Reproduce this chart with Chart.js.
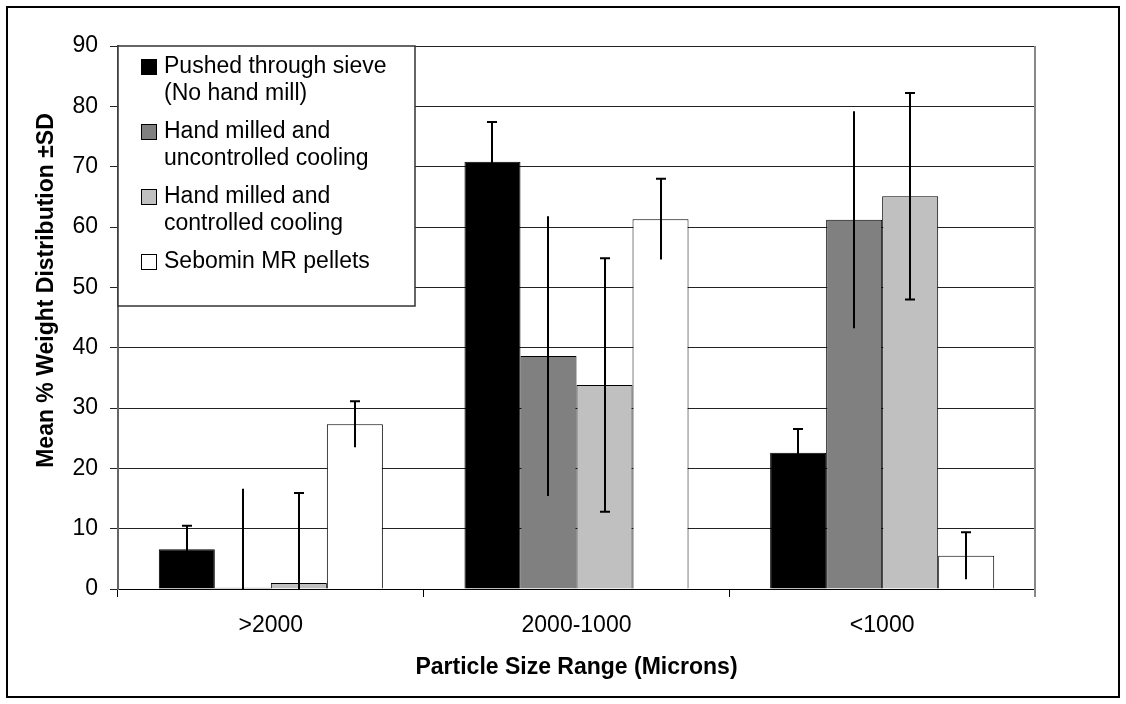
<!DOCTYPE html>
<html>
<head>
<meta charset="utf-8">
<title>Particle Size Distribution</title>
<script src="https://cdn.jsdelivr.net/npm/chart.js@4.4.0/dist/chart.umd.min.js"></script>
<style>
    html, body { margin: 0; padding: 0; background: #fff; }
    canvas { display: block; }
</style>
</head>
<body>
<canvas id="sizeChart" width="1126" height="704"></canvas>
<script>
// Particle size ranges (microns)
const categories = ['>2000', '2000-1000', '<1000'];

// Mean % weight per range, and standard deviations
const pushedThroughSieve = [6.6, 70.8, 22.6];
const pushedThroughSieveSD = [3.9, 6.6, 3.9];

const uncontrolledCooling = [0.2, 38.6, 61.2];
const uncontrolledCoolingSD = [16.4, 23.2, 18.0];

const controlledCooling = [1.0, 33.8, 65.1];
const controlledCoolingSD = [14.9, 21.0, 17.1];

const sebominPellets = [27.3, 61.3, 5.5];
const sebominPelletsSD = [3.8, 6.7, 3.9];

const yTicks = [0, 10, 20, 30, 40, 50, 60, 70, 80, 90];

const seriesLabels = [
    ['Pushed through sieve', '(No hand mill)'],
    ['Hand milled and', 'uncontrolled cooling'],
    ['Hand milled and', 'controlled cooling'],
    ['Sebomin MR pellets']
];
const seriesColors = ['#000000', '#808080', '#c0c0c0', '#ffffff'];

// which ends of each series' error bar get a cap
const capTop = [true, false, true, true];
const capBottom = [false, false, true, false];

const FONT = "'Liberation Sans', Arial, Helvetica, sans-serif";

const seriesValues = [pushedThroughSieve, uncontrolledCooling, controlledCooling, sebominPellets];
const seriesSD = [pushedThroughSieveSD, uncontrolledCoolingSD, controlledCoolingSD, sebominPelletsSD];

// Outer frame round the whole figure
const framePlugin = {
    id: 'frame',
    beforeDraw(chart) {
        const ctx = chart.ctx;
        ctx.save();
        ctx.fillStyle = '#fff';
        ctx.fillRect(0, 0, chart.width, chart.height);
        ctx.strokeStyle = '#000';
        ctx.lineWidth = 2;
        ctx.strokeRect(7, 7, chart.width - 14, chart.height - 14);
        ctx.restore();
    },
    afterDraw(chart) {
        // plot area right edge
        const area = chart.chartArea;
        const ctx = chart.ctx;
        ctx.save();
        ctx.strokeStyle = '#888';
        ctx.lineWidth = 2;
        ctx.beginPath();
        ctx.moveTo(area.right, area.top);
        ctx.lineTo(area.right, area.bottom + 8);
        ctx.stroke();

        // rotated y-axis title
        ctx.fillStyle = '#000';
        ctx.font = 'bold 23px ' + FONT;
        ctx.textAlign = 'center';
        ctx.textBaseline = 'middle';
        ctx.translate(47, (area.top + area.bottom) / 2 - 27);
        ctx.rotate(-Math.PI / 2);
        ctx.fillText('Mean % Weight Distribution \u00b1SD', 0, 0);
        ctx.restore();
    }
};

// Error bars (+/- SD), clipped to the plot area
const errorBarPlugin = {
    id: 'errorBars',
    afterDatasetsDraw(chart) {
        const ctx = chart.ctx;
        const yScale = chart.scales.y;
        const area = chart.chartArea;
        ctx.save();
        ctx.beginPath();
        ctx.rect(area.left, area.top - 2, area.right - area.left, area.bottom - area.top + 2);
        ctx.clip();
        ctx.strokeStyle = '#000';
        ctx.lineWidth = 2;
        chart.data.datasets.forEach((ds, i) => {
            const meta = chart.getDatasetMeta(i);
            meta.data.forEach((bar, j) => {
                const v = seriesValues[i][j];
                const sd = seriesSD[i][j];
                const yHi = yScale.getPixelForValue(v + sd);
                const yLo = yScale.getPixelForValue(Math.max(v - sd, 0));
                const x = Math.round(bar.x);
                ctx.beginPath();
                ctx.moveTo(x, yLo);
                ctx.lineTo(x, yHi);
                if (capTop[i]) {
                    ctx.moveTo(x - 5, yHi);
                    ctx.lineTo(x + 5, yHi);
                }
                if (capBottom[i] && v - sd > 0) {
                    ctx.moveTo(x - 5, yLo);
                    ctx.lineTo(x + 5, yLo);
                }
                ctx.stroke();
            });
        });
        ctx.restore();
    }
};

// Boxed legend in the top-left corner of the plot
const boxLegendPlugin = {
    id: 'boxLegend',
    afterDatasetsDraw(chart) {
        const ctx = chart.ctx;
        const area = chart.chartArea;
        const left = area.left;
        const top = area.top;
        ctx.save();
        ctx.fillStyle = '#fff';
        ctx.fillRect(left, top, 297, 260);
        ctx.strokeStyle = '#333';
        ctx.lineWidth = 1.5;
        ctx.strokeRect(left, top, 297, 260);

        ctx.font = '23px ' + FONT;
        ctx.textBaseline = 'middle';
        ctx.textAlign = 'left';
        let y = top + 21;
        seriesLabels.forEach((lines, i) => {
            ctx.fillStyle = seriesColors[i];
            ctx.fillRect(left + 23.5, y - 7.5, 15, 15);
            ctx.strokeStyle = '#000';
            ctx.lineWidth = 1;
            ctx.strokeRect(left + 23.5, y - 7.5, 15, 15);
            ctx.fillStyle = '#000';
            lines.forEach((line, k) => {
                ctx.fillText(line, left + 46, y + k * 27);
            });
            y += 65;
        });
        ctx.restore();
    }
};

function buildDatasets() {
    return seriesValues.map((values, i) => ({
        label: seriesLabels[i].join(' '),
        data: values,
        backgroundColor: seriesColors[i],
        borderColor: '#000',
        borderWidth: 1,
        categoryPercentage: 0.733,
        barPercentage: 1.0
    }));
}

function initChart() {
    const ctx = document.getElementById('sizeChart').getContext('2d');
    new Chart(ctx, {
        type: 'bar',
        data: {
            labels: categories,
            datasets: buildDatasets()
        },
        options: {
            responsive: false,
            animation: false,
            devicePixelRatio: 1,
            layout: {
                padding: { top: 46, right: 91, left: 0, bottom: 0 }
            },
            plugins: {
                legend: { display: false },
                tooltip: { enabled: false }
            },
            scales: {
                x: {
                    offset: true,
                    grid: {
                        offset: true,
                        drawOnChartArea: false,
                        drawTicks: true,
                        tickLength: 8,
                        color: '#000',
                        lineWidth: 1
                    },
                    border: { display: true, color: '#000', width: 1 },
                    ticks: {
                        color: '#000',
                        padding: 15,
                        font: { family: FONT, size: 23 }
                    },
                    title: {
                        display: true,
                        text: 'Particle Size Range (Microns)',
                        color: '#000',
                        font: { family: FONT, size: 23, weight: 'bold' },
                        padding: { top: 0, bottom: 23 }
                    },
                    afterFit(scale) {
                        scale.height = 115;
                    }
                },
                y: {
                    min: yTicks[0],
                    max: yTicks[yTicks.length - 1],
                    afterBuildTicks(scale) {
                        scale.ticks = yTicks.map(v => ({ value: v }));
                    },
                    grid: {
                        color: '#222',
                        lineWidth: 1,
                        tickLength: 8
                    },
                    border: { display: true, color: '#666', width: 2 },
                    ticks: {
                        color: '#000',
                        padding: 12,
                        font: { family: FONT, size: 23 }
                    },
                    afterFit(scale) {
                        scale.width = 118;
                    }
                }
            }
        },
        plugins: [framePlugin, errorBarPlugin, boxLegendPlugin]
    });
}

document.addEventListener('DOMContentLoaded', () => {
    initChart();
});
</script>
</body>
</html>
